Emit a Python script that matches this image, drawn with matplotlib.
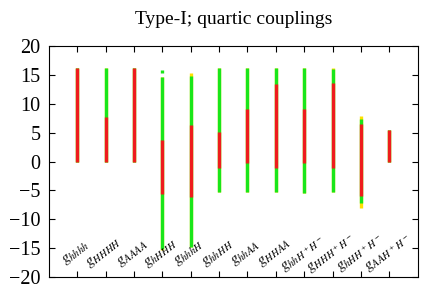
import matplotlib
matplotlib.use('Agg')
import matplotlib.pyplot as plt

plt.rcParams['font.family'] = ['Liberation Serif', 'DejaVu Serif']
plt.rcParams['mathtext.fontset'] = 'stix'

labels = ['hhhh', 'HHHH', 'AAAA', 'hHHH', 'hhhH', 'hhHH',
          'hhAA', 'HHAA', 'hhH^+H^-', 'HHH^+H^-', 'hHH^+H^-', 'AAH^+H^-']

# (low, high) ranges per coupling, drawn yellow -> green -> red
yellow = [(0, 16.2), (0, 16.2), (0, 16.2), (-15.4, 14.6), (-14.8, 15.3), (-5.3, 16.2),
          (-5.3, 16.2), (-5.3, 16.2), (-5.5, 16.2), (-5.3, 16.3), (-8.1, 7.85), (-0.1, 5.5)]
green = [(0, 16.2), (0, 16.2), (0, 16.2), (-15.1, 14.6), (-14.8, 14.9), (-5.3, 16.2),
         (-5.3, 16.2), (-5.3, 16.2), (-5.5, 16.2), (-5.3, 16.0), (-7.2, 7.3), (-0.1, 5.5)]
red = [(0, 16.2), (0, 7.7), (0, 16.2), (-5.7, 3.75), (-6.2, 6.4), (-1.1, 5.1),
       (-0.2, 9.1), (-1.2, 13.45), (-0.2, 9.1), (-1.1, 13.6), (-5.9, 6.5), (-0.1, 5.5)]
extra_green = [(3, 15.4, 15.8)]

fig, ax = plt.subplots(figsize=(4.36, 2.94), dpi=100)
fig.subplots_adjust(left=0.112, right=0.958, top=0.843, bottom=0.058)

x = list(range(len(labels)))
lw = 2.4
ax.vlines(x, [r[0] for r in yellow], [r[1] for r in yellow], color='#ffe000', lw=lw)
ax.vlines(x, [r[0] for r in green], [r[1] for r in green], color='#19e619', lw=lw)
ax.vlines(x, [r[0] for r in red], [r[1] for r in red], color='#ee1c1c', lw=lw)
for xi, lo, hi in extra_green:
    ax.vlines(xi, lo, hi, color='#19e619', lw=lw)

for xi, lab in zip(x, labels):
    ax.text(xi - 0.05, -15.9, '$g_{%s}$' % lab, rotation=38, ha='center', va='center',
            fontsize=11)

ax.set_xlim(-1, 12)
ax.set_ylim(-20, 20)
ax.set_yticks(range(-20, 21, 5))
ax.set_xticks(x)
ax.set_xticklabels([])
ax.tick_params(direction='in', top=True, right=True, labelsize=14.5, length=4, pad=6)
ax.set_title('Type-I; quartic couplings', fontsize=14, pad=16)

fig.savefig('out.png', dpi=100)
